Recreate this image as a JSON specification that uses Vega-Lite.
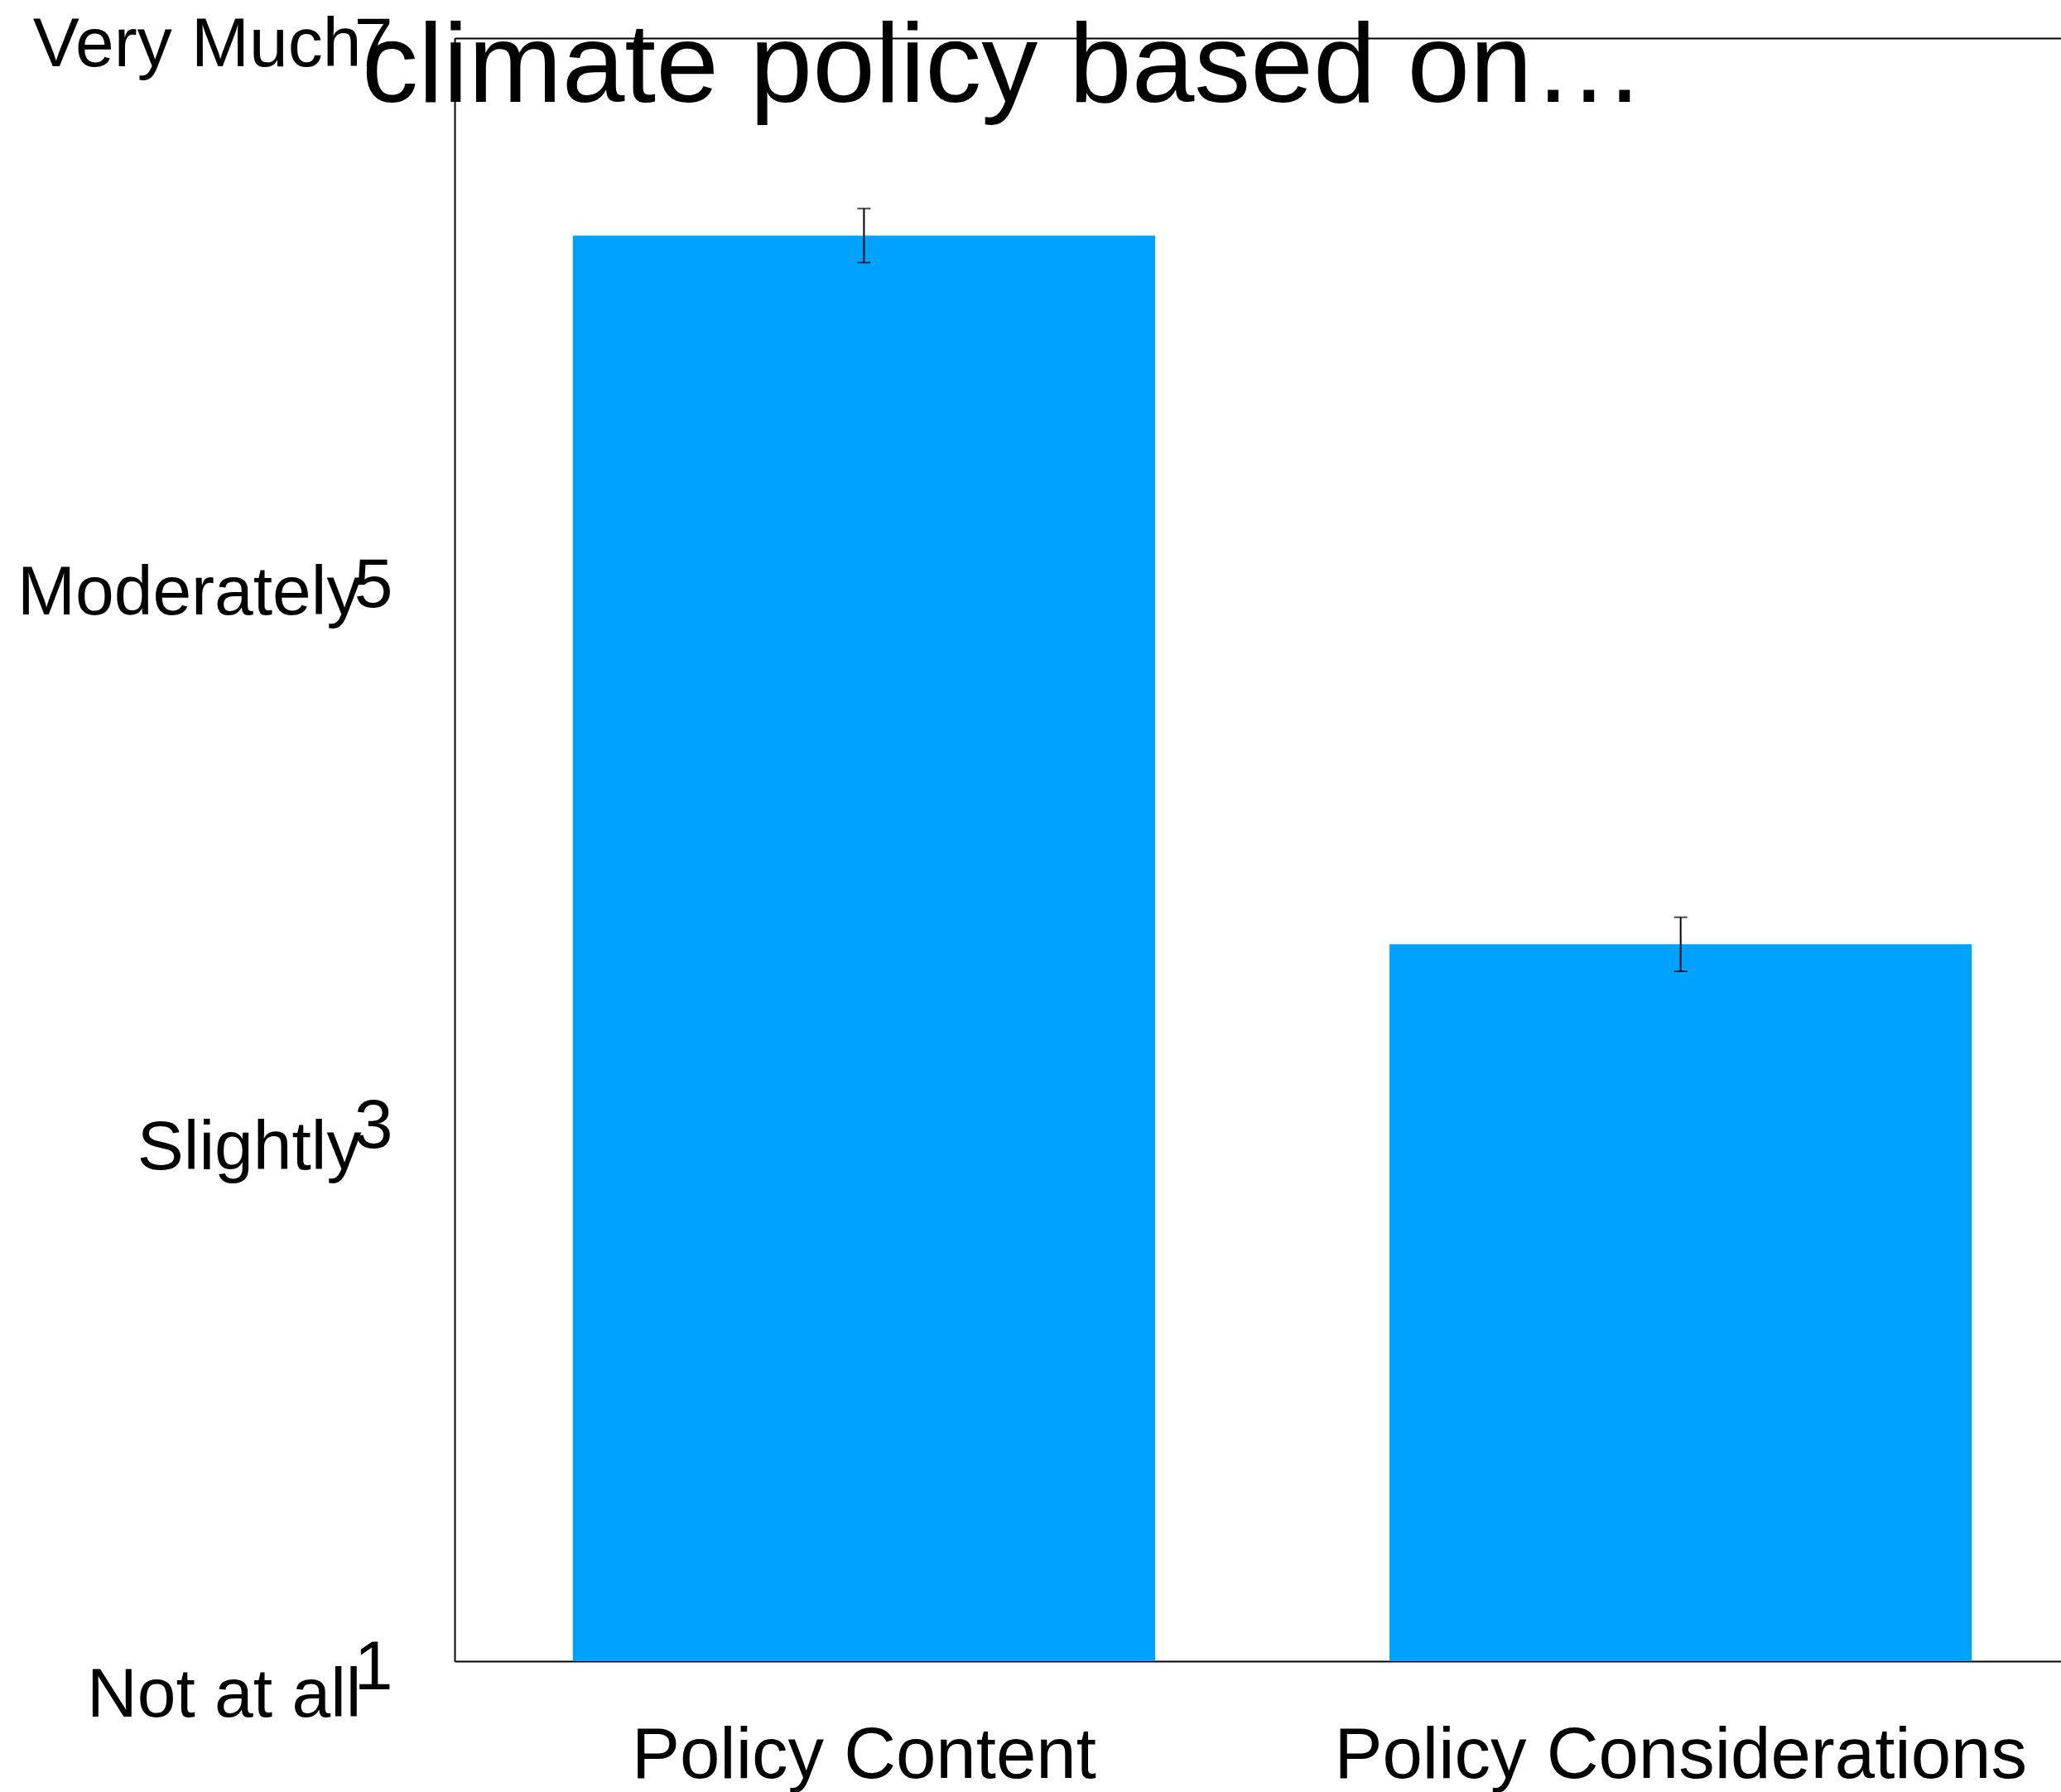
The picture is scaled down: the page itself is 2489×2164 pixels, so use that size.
{
  "$schema": "https://vega.github.io/schema/vega-lite/v6.json",
  "width": 1940,
  "height": 1960,
  "autosize": {"type": "none"},
  "padding": {"left": 549, "top": 46, "right": 0, "bottom": 158},
  "title": {
    "text": "climate policy based on…",
    "fontSize": 136,
    "fontWeight": "normal",
    "font": "Liberation Sans",
    "color": "black",
    "anchor": "start",
    "frame": "group",
    "baseline": "alphabetic",
    "limit": 0,
    "dx": -112,
    "offset": -247
  },
  "config": {
    "font": "Liberation Sans",
    "view": {"stroke": null},
    "axis": {
      "domainColor": "black",
      "domainWidth": 2,
      "ticks": false,
      "grid": false,
      "labelColor": "black",
      "labelFont": "Liberation Sans",
      "labelLimit": 0,
      "title": null
    }
  },
  "data": {
    "values": [
      {"condition": "Policy Content", "mean": 6.27, "lo": 6.17, "hi": 6.37},
      {"condition": "Policy Considerations", "mean": 3.65, "lo": 3.55, "hi": 3.75}
    ]
  },
  "resolve": {"axis": {"x": "independent", "y": "independent"}},
  "layer": [
    {
      "mark": {"type": "bar", "color": "#00a2ff", "clip": true},
      "encoding": {
        "x": {
          "field": "condition", "type": "nominal", "sort": null,
          "scale": {"paddingInner": 0.287, "paddingOuter": 0.127, "align": 0.57},
          "axis": {"orient": "bottom", "labelAngle": 0, "labelFontSize": 87, "labelBaseline": "alphabetic", "labelPadding": 140, "labelLimit": 0, "title": null}
        },
        "y": {
          "field": "mean", "type": "quantitative",
          "scale": {"domain": [1, 7], "zero": false, "nice": false},
          "axis": {"orient": "left", "values": [1, 3, 5, 7], "labelFontSize": 84, "labelBaseline": "alphabetic", "labelOffset": 33, "labelPadding": 75, "labelFlush": false, "labelOverlap": false, "title": null}
        }
      }
    },
    {
      "mark": {"type": "rule", "color": "black", "strokeWidth": 2},
      "encoding": {
        "x": {
          "field": "condition", "type": "nominal", "sort": null,
          "axis": {"orient": "top", "labels": false, "domain": true, "title": null}
        },
        "y": {
          "field": "lo", "type": "quantitative",
          "axis": {
            "orient": "left", "values": [1, 3, 5, 7], "domain": false,
            "labelExpr": "datum.value == 7 ? 'Very Much' : datum.value == 5 ? 'Moderately' : datum.value == 3 ? 'Slightly' : 'Not at all'",
            "labelFontSize": 84, "labelBaseline": "alphabetic", "labelPadding": 113, "labelFlush": false, "labelOverlap": false, "labelLimit": 0,
            "labelOffset": {"condition": [{"test": "datum.value == 7", "value": 33}, {"test": "datum.value == 5", "value": 42}, {"test": "datum.value == 3", "value": 59}], "value": 66},
            "title": null
          }
        },
        "y2": {"field": "hi"}
      }
    },
    {
      "mark": {"type": "tick", "color": "black", "size": 16, "thickness": 2, "orient": "horizontal"},
      "encoding": {
        "x": {"field": "condition", "type": "nominal", "sort": null, "axis": null},
        "y": {"field": "lo", "type": "quantitative", "axis": null}
      }
    },
    {
      "mark": {"type": "tick", "color": "black", "size": 16, "thickness": 2, "orient": "horizontal"},
      "encoding": {
        "x": {"field": "condition", "type": "nominal", "sort": null, "axis": null},
        "y": {"field": "hi", "type": "quantitative", "axis": null}
      }
    }
  ]
}
